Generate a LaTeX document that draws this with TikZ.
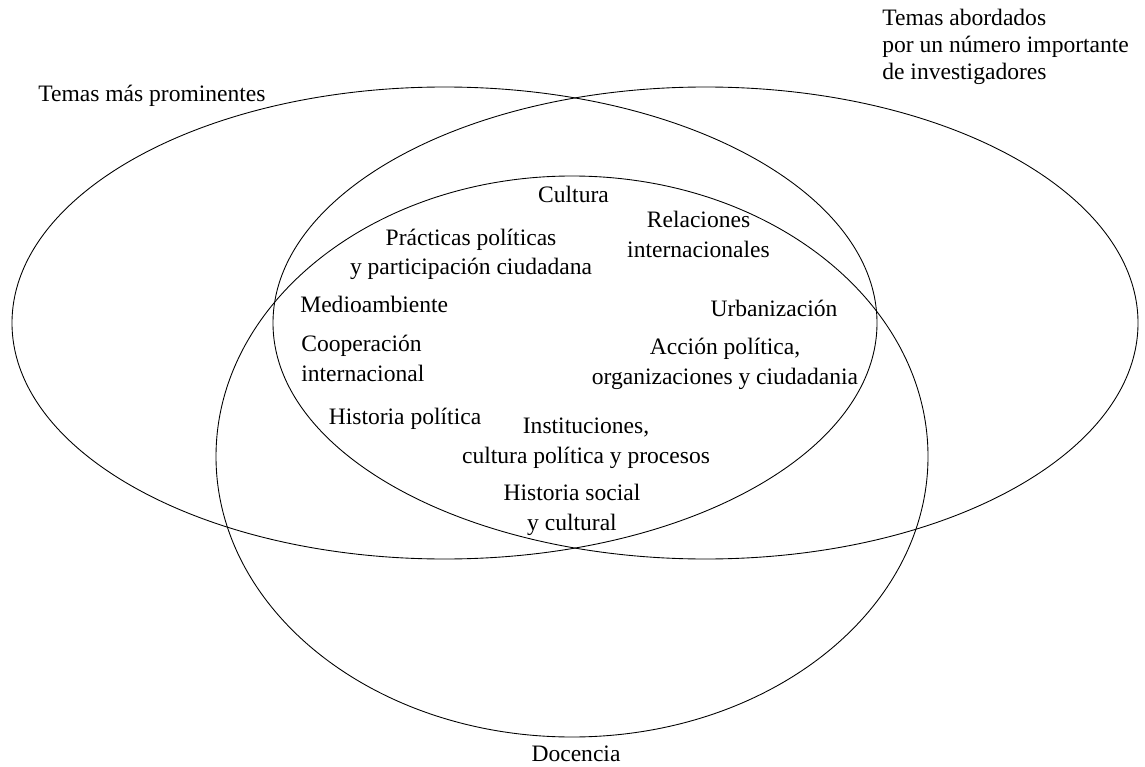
\documentclass[tikz,border=0pt]{standalone}
\usepackage{fontspec}
\setmainfont{Liberation Serif}
\usetikzlibrary{positioning}

\begin{document}
\begin{tikzpicture}[tema/.style={font=\fontsize{13.4}{17}\selectfont, align=center, inner sep=0pt, anchor=base},
    rotulo/.style={font=\fontsize{13.4}{15.6}\selectfont, align=left, inner sep=0pt, anchor=base west},
    conjunto/.style={line width=0.5pt}]
  \useasboundingbox (0,0) rectangle (22.9,15.32);
  % centros de los tres conjuntos
  \coordinate (prom) at (8.89,8.86);
  \coordinate (inv) at (14.11,8.86);
  \coordinate (doc) at (11.44,6.19);
  \draw[conjunto] (prom) ellipse [x radius=8.65, y radius=4.72];
  \draw[conjunto] (inv) ellipse [x radius=8.65, y radius=4.72];
  \draw[conjunto] (doc) ellipse [x radius=7.12, y radius=5.61];
  % rotulos de los conjuntos (base = ultima linea)
  \node[rotulo] (Tprom) at (0.76,13.28) {Temas más prominentes};
  \node[rotulo] (Tinv) at (17.64,13.72) {Temas abordados\\por un número importante\\de investigadores};
  \node[tema] (Tdoc) at (11.52,0.10) {Docencia};
  % temas
  \node[tema] (cult) at (11.47,11.27) {Cultura};
  \node[tema] (rel) at (13.97,10.18) {Relaciones\\internacionales};
  \node[tema] (prac) at (9.42,9.82) {Prácticas políticas\\y participación ciudadana};
  \node[tema, anchor=base west] (medio) at (6.0,9.08) {Medioambiente};
  \node[tema, anchor=base west, align=left] (coop) at (6.02,7.70) {Cooperación\\internacional};
  \node[tema] (hpol) at (8.10,6.84) {Historia política};
  \node[tema] (urb) at (15.48,9.0) {Urbanización};
  \node[tema] (acc) at (14.5,7.64) {Acción política,\\organizaciones y ciudadania};
  \node[tema] (inst) at (11.72,6.06) {Instituciones,\\cultura política y procesos};
  \node[tema] (hsoc) at (11.44,4.72) {Historia social\\y cultural};
\end{tikzpicture}
\end{document}
